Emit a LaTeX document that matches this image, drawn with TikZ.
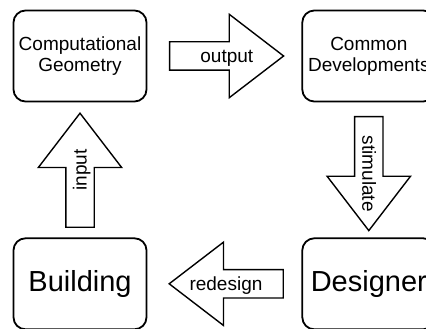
\documentclass[tikz,border=0pt]{standalone}
\usepackage{fontspec}
\setmainfont{Liberation Sans}
\usetikzlibrary{positioning,shapes.arrows}

\begin{document}
\begin{tikzpicture}[
  x=1pt, y=1pt,
  box/.style={rectangle, draw, line width=1.8pt, rounded corners=12pt, align=center, minimum width=133pt, minimum height=91pt, inner sep=0pt},
  small/.style={font=\fontsize{19}{21}\selectfont},
  big/.style={font=\fontsize{29}{32}\selectfont},
  flow/.style={single arrow, draw, line width=1.4pt, minimum height=114pt, single arrow head extend=27.5pt, single arrow tip angle=75, text height=13pt, text depth=0pt, inner ysep=7pt, inner xsep=0pt},
  tag/.style={small, text height=13pt, text depth=0pt, inner sep=0pt},
  node distance=135pt and 154pt
]
\useasboundingbox (0,0) rectangle (426,-329);

% Boxes
\node[box, small] (geometry) at (80,-56) {Computational\\Geometry};
\node[box, small, right=of geometry] (devel) {Common\\Developments};
\node[box, big, below=of geometry] (building) {Building};
\node[box, big, right=of building] (designer) {Designer};

% Flows
\node[flow, right=21.5pt of geometry, anchor=tail] (output) {};
\node[flow, rotate=-90, below=13.5pt of devel, anchor=tail] (stimulate) {};
\node[flow, shape border rotate=180, left=17.5pt of designer, anchor=tail] (redesign) {};
\node[flow, rotate=90, above=9.5pt of building, anchor=tail] (input) {};

% Flow labels
\path (output.tail) -- node[tag] (outputtxt) {output} (output.tip);
\path (stimulate.tail) -- node[tag, sloped] (stimulatetxt) {stimulate} (stimulate.tip);
\path (redesign.tail) -- node[tag, sloped] (redesigntxt) {redesign} (redesign.tip);
\path (input.tail) -- node[tag, sloped] (inputtxt) {input} (input.tip);

\end{tikzpicture}
\end{document}
